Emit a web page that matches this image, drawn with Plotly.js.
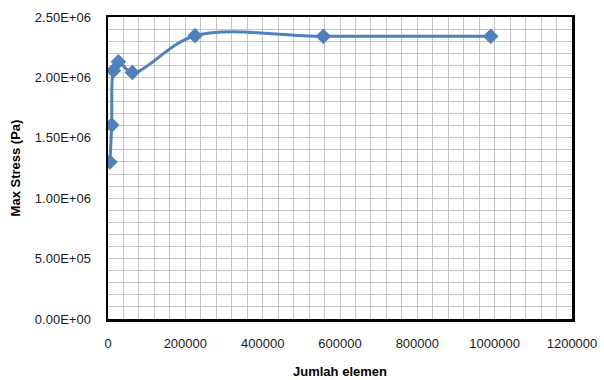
<!DOCTYPE html>
<html>
<head>
<meta charset="utf-8">
<script src="https://cdn.plot.ly/plotly-3.0.1.min.js"></script>
<style>html,body{margin:0;padding:0;background:#fff;}#chart{width:604px;height:380px;}</style>
</head>
<body>
<div id="chart"></div>
<script>
// Data
const jumlahElemen = [5000, 9500, 14000, 27000, 63000, 225000, 557000, 990000];
const maxStress = [1300000, 1605000, 2055000, 2130000, 2040000, 2345000, 2340000, 2340000];

const yTickVals = [0, 500000, 1000000, 1500000, 2000000, 2500000];
const yTickText = ["0.00E+00", "5.00E+05", "1.00E+06", "1.50E+06", "2.00E+06", "2.50E+06"];
const xTickVals = [0, 200000, 400000, 600000, 800000, 1000000, 1200000];
const xTickText = ["0", "200000", "400000", "600000", "800000", "1000000", "1200000"];

const xTitle = "Jumlah elemen";
const yTitle = "Max Stress (Pa)";

const fontFam = "Liberation Sans, Arial, sans-serif";
const trace = {
  x: jumlahElemen,
  y: maxStress,
  type: "scatter",
  mode: "lines+markers",
  line: {color: "#4F81BD", width: 3, shape: "spline", smoothing: 1},
  marker: {symbol: "diamond", size: 12, color: "#4F81BD"},
  hoverinfo: "skip"
};

const layout = {
  width: 604, height: 380,
  margin: {l: 108, r: 32, t: 17, b: 61},
  paper_bgcolor: "#ffffff",
  plot_bgcolor: "#ffffff",
  showlegend: false,
  font: {family: fontFam, size: 13, color: "#1a1a1a"},
  xaxis: {
    range: [0, 1200000],
    tickvals: xTickVals, ticktext: xTickText,
    ticks: "", ticklabelstandoff: 11,
    showgrid: true, gridcolor: "#c4c4c4", gridwidth: 1,
    minor: {dtick: 40000, tick0: 0, showgrid: true, gridcolor: "#c4c4c4", gridwidth: 1},
    showline: true, linecolor: "#000", linewidth: 2.5, mirror: true,
    zeroline: false,
    title: {text: xTitle, font: {family: fontFam, size: 13, color: "#000", weight: "bold"}, standoff: 17}
  },
  yaxis: {
    range: [0, 2500000],
    tickvals: yTickVals, ticktext: yTickText,
    ticks: "", ticklabelstandoff: 12,
    showgrid: true, gridcolor: "#c4c4c4", gridwidth: 1,
    minor: {dtick: 100000, tick0: 0, showgrid: true, gridcolor: "#c4c4c4", gridwidth: 1},
    showline: true, linecolor: "#000", linewidth: 2.5, mirror: true,
    zeroline: false,
    title: {text: yTitle, font: {family: fontFam, size: 13, color: "#000", weight: "bold"}, standoff: 12}
  }
};

Plotly.newPlot("chart", [trace], layout, {displayModeBar: false, staticPlot: true});
</script>
</body>
</html>
